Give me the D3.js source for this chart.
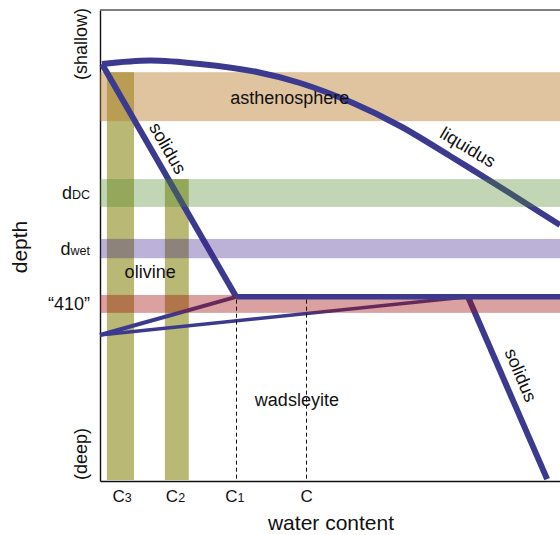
<!DOCTYPE html>
<html>
<head>
<meta charset="utf-8">
<script src="https://cdn.jsdelivr.net/npm/d3@7"></script>
<style>
  body { margin: 0; background: #fff; }
  svg { display: block; font-family: "Liberation Sans", Arial, sans-serif; }
</style>
</head>
<body>
<svg width="560" height="535"></svg>
<script>
// water content (x) and depth (y) are in arbitrary 0-100 units, shallow at top
const depthBands = [
  {name: "asthenosphere", top: 13.2, bottom: 23.6},
  {name: "dDC", top: 35.9, bottom: 41.8},
  {name: "dwet", top: 48.6, bottom: 52.7},
  {name: "410", top: 60.5, bottom: 64.3}
];
const waterBands = [
  {name: "C3", left: 1.5, right: 7.4, top: 13.2, bottom: 99.8},
  {name: "C2", left: 14.1, right: 19.3, top: 35.9, bottom: 99.8}
];
const waterTicks = [4.7, 16.3, 29.2, 44.8];
const waterTickLabels = [["C", "3"], ["C", "2"], ["C", "1"], ["C", ""]];
const depthTicks = [38.85, 50.65, 62.4];
const depthTickLabels = [["d", "DC"], ["d", "wet"], ["\u201c410\u201d", ""]];

const liquidus = [[0.43, 11.46], [10.87, 10.72], [21.74, 11.46], [34.13, 13.16],
  [43.48, 15.5], [55.0, 19.75], [65.22, 24.63], [76.09, 31.0], [86.96, 37.58], [100, 45.65]];
const solidusUpper = [[0.43, 11.46], [29.6, 60.9]];
const transition410 = [[29.6, 60.9], [100, 60.9]];
const solidusLower = [[80, 60.9], [97.2, 99.6]];
const wedgeUpper = [[0, 69.0], [29.6, 60.9]];
const wedgeLower = [[0, 69.0], [80, 60.9]];
const dashedMarks = [29.6, 44.8]; // C1 and C

const annotations = [
  {text: "asthenosphere", wc: 28.3, depth: 19.96, angle: 0, anchor: "start"},
  {text: "olivine", wc: 10.9, depth: 56.9, angle: 0, anchor: "middle"},
  {text: "wadsleyite", wc: 42.8, depth: 84.1, angle: 0, anchor: "middle"},
  {text: "solidus", wc: 14.8, depth: 29.3, angle: 60, anchor: "middle"},
  {text: "liquidus", wc: 80.0, depth: 29.1, angle: 31, anchor: "middle"},
  {text: "solidus", wc: 91.5, depth: 77.5, angle: 67, anchor: "middle"}
];

const bandColor = {
  asthenosphere: ["#bb7c2c", 0.45],
  dDC: ["#518a2e", 0.35],
  dwet: ["#40208a", 0.35],
  "410": ["#a51111", 0.4]
};
const blue = "#3b3a8e";

const svg = d3.select("svg");
const x = d3.scaleLinear().domain([0, 100]).range([100, 560]);
const y = d3.scaleLinear().domain([0, 100]).range([10, 481]);

// axes first, so the bands tint them
const xAxis = svg.append("g")
  .attr("transform", "translate(0," + y(100) + ")")
  .call(d3.axisBottom(x).tickValues(waterTicks).tickSize(0).tickSizeOuter(0).tickPadding(9));
xAxis.select(".domain").attr("stroke", "#111").attr("stroke-width", 1.4);
xAxis.selectAll(".tick text").each(function(d, i) {
  const t = d3.select(this).text(null).attr("font-size", 17).attr("font-family", null).attr("fill", "#111");
  t.append("tspan").text(waterTickLabels[i][0]);
  t.append("tspan").attr("font-size", 12.5).text(waterTickLabels[i][1]);
});

const yAxis = svg.append("g")
  .attr("transform", "translate(" + x(0) + ",0)")
  .call(d3.axisLeft(y).tickValues(depthTicks).tickSize(0).tickSizeOuter(0).tickPadding(10));
yAxis.select(".domain").attr("stroke", "#111").attr("stroke-width", 1.4);
yAxis.selectAll(".tick text").each(function(d, i) {
  const t = d3.select(this).text(null).attr("font-size", 18).attr("font-family", null).attr("fill", "#111");
  t.append("tspan").text(depthTickLabels[i][0]);
  t.append("tspan").attr("font-size", 12.5).text(depthTickLabels[i][1]);
});

svg.append("line")
  .attr("x1", x(0)).attr("x2", x(100))
  .attr("y1", y(0)).attr("y2", y(0))
  .attr("stroke", "#555").attr("stroke-width", 1.5);

// olive water-content bands
svg.selectAll(".wband")
  .data(waterBands)
  .join("rect")
    .attr("class", "wband")
    .attr("x", d => x(d.left))
    .attr("width", d => x(d.right) - x(d.left))
    .attr("y", d => y(d.top))
    .attr("height", d => y(d.bottom) - y(d.top))
    .attr("fill", "#b9b874");

function drawBand(d) {
  svg.append("rect")
    .attr("x", x(0))
    .attr("width", x(100) - x(0))
    .attr("y", y(d.top))
    .attr("height", y(d.bottom) - y(d.top))
    .attr("fill", bandColor[d.name][0])
    .attr("fill-opacity", bandColor[d.name][1]);
}

function drawLine(pts, w, curve) {
  const gen = d3.line().x(d => x(d[0])).y(d => y(d[1])).curve(curve || d3.curveLinear);
  svg.append("path")
    .attr("d", gen(pts))
    .attr("fill", "none")
    .attr("stroke", blue)
    .attr("stroke-width", w);
}

drawBand(depthBands[0]);

drawLine(liquidus, 6, d3.curveCatmullRom);
drawLine(solidusUpper, 6);
drawLine(wedgeUpper, 4);
drawLine(wedgeLower, 3.5);
drawLine(solidusLower, 6);

depthBands.slice(1).forEach(drawBand);

drawLine(transition410, 5.5);

svg.selectAll(".dash")
  .data(dashedMarks)
  .join("line")
    .attr("class", "dash")
    .attr("x1", d => Math.round(x(d)) + 0.5).attr("x2", d => Math.round(x(d)) + 0.5)
    .attr("y1", y(61.5)).attr("y2", y(100))
    .attr("stroke", "#111")
    .attr("stroke-width", 1)
    .attr("stroke-dasharray", "4,3");

svg.selectAll(".note")
  .data(annotations)
  .join("text")
    .attr("class", "note")
    .attr("transform", d => "translate(" + x(d.wc) + "," + y(d.depth) + ") rotate(" + d.angle + ")")
    .attr("dy", d => d.angle ? "0.35em" : null)
    .attr("text-anchor", d => d.anchor)
    .attr("font-size", 18)
    .attr("fill", "#111")
    .text(d => d.text);

// axis titles
svg.append("text")
  .attr("transform", "translate(" + 27 + "," + 247 + ") rotate(-90)")
  .attr("text-anchor", "middle")
  .attr("font-size", 21)
  .attr("fill", "#111")
  .text("depth");
svg.append("text")
  .attr("transform", "translate(" + 87 + "," + 44 + ") rotate(-90)")
  .attr("text-anchor", "middle")
  .attr("font-size", 18)
  .attr("fill", "#111")
  .text("(shallow)");
svg.append("text")
  .attr("transform", "translate(" + 87 + "," + 454 + ") rotate(-90)")
  .attr("text-anchor", "middle")
  .attr("font-size", 18)
  .attr("fill", "#111")
  .text("(deep)");
svg.append("text")
  .attr("x", 331)
  .attr("y", 530)
  .attr("text-anchor", "middle")
  .attr("font-size", 21)
  .attr("fill", "#111")
  .text("water content");
</script>
</body>
</html>
